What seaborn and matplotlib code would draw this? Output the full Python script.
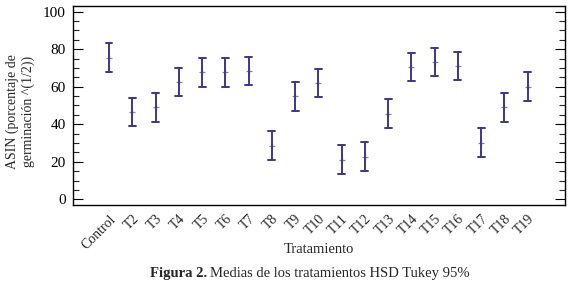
import pandas as pd
import matplotlib.pyplot as plt
import seaborn as sns
from matplotlib.ticker import MultipleLocator

# ---------- Data ----------
tratamientos = ["Control", "T2", "T3", "T4", "T5", "T6", "T7", "T8", "T9", "T10",
                "T11", "T12", "T13", "T14", "T15", "T16", "T17", "T18", "T19"]
medias = [75.5, 46.6, 49.0, 62.6, 67.6, 67.6, 68.5, 28.6, 54.8, 62.1,
          21.2, 22.8, 45.6, 70.4, 73.2, 71.0, 30.2, 49.0, 60.0]
hsd_mitad = 7.6  # half-width of the Tukey HSD interval

# ---------- Build table: lower/upper end of every interval ----------
rows = []
for t, m in zip(tratamientos, medias):
    rows.append({"Tratamiento": t, "valor": m - hsd_mitad})
    rows.append({"Tratamiento": t, "valor": m + hsd_mitad})
df = pd.DataFrame(rows)

sns.set_style("white")
plt.rcParams["font.family"] = ["Liberation Serif", "DejaVu Serif"]

fig = plt.figure(figsize=(5.7, 2.89), dpi=100)
ax = fig.add_axes([0.128, 0.291, 0.863, 0.688])

sns.pointplot(
    data=df, x="Tratamiento", y="valor", order=tratamientos,
    estimator="mean", errorbar=("pi", 100), capsize=0.3,
    linestyle="none", marker="+", markersize=4, markeredgewidth=0.9,
    color="#8c8a6e", err_kws={"color": "#3e3590", "linewidth": 1.4},
    ax=ax,
)

ax.set_xlim(-1.55, 19.6)
ax.set_ylim(-3, 103)
ax.yaxis.set_major_locator(MultipleLocator(20))
ax.yaxis.set_minor_locator(MultipleLocator(5))
ax.tick_params(axis="y", which="major", direction="in", length=7, width=0.8,
               left=True, right=True, labelsize=11, colors="black", pad=5)
ax.tick_params(axis="y", which="minor", direction="in", length=4, width=0.8,
               left=True, right=True)
ax.tick_params(axis="x", bottom=False, labelsize=10, pad=2)
for lbl in ax.get_xticklabels():
    lbl.set_rotation(45)
    lbl.set_ha("right")
    lbl.set_rotation_mode("anchor")

for s in ax.spines.values():
    s.set_color("black")
    s.set_linewidth(1.0)

ax.set_xlabel("Tratamiento", fontsize=10.5)
ax.xaxis.set_label_coords(0.5, -0.19)
ax.set_ylabel("ASIN (porcentaje de\ngerminación ^(1/2))", fontsize=10,
              linespacing=1.25)
ax.yaxis.set_label_coords(-0.078, 0.47)

# ---------- Caption ----------
t1 = fig.text(0, 0.043, "Figura 2.", fontsize=10.5, fontweight="bold",
              ha="left", va="baseline")
t2 = fig.text(0, 0.043, "Medias de los tratamientos HSD Tukey 95%", fontsize=10.5,
              ha="left", va="baseline")
fig.canvas.draw()
w1 = t1.get_window_extent().width
w2 = t2.get_window_extent().width
gap = 3
x0 = 310 - (w1 + gap + w2) / 2
t1.set_x(x0 / fig.bbox.width)
t2.set_x((x0 + w1 + gap) / fig.bbox.width)

fig.savefig("out.png", dpi=100)
